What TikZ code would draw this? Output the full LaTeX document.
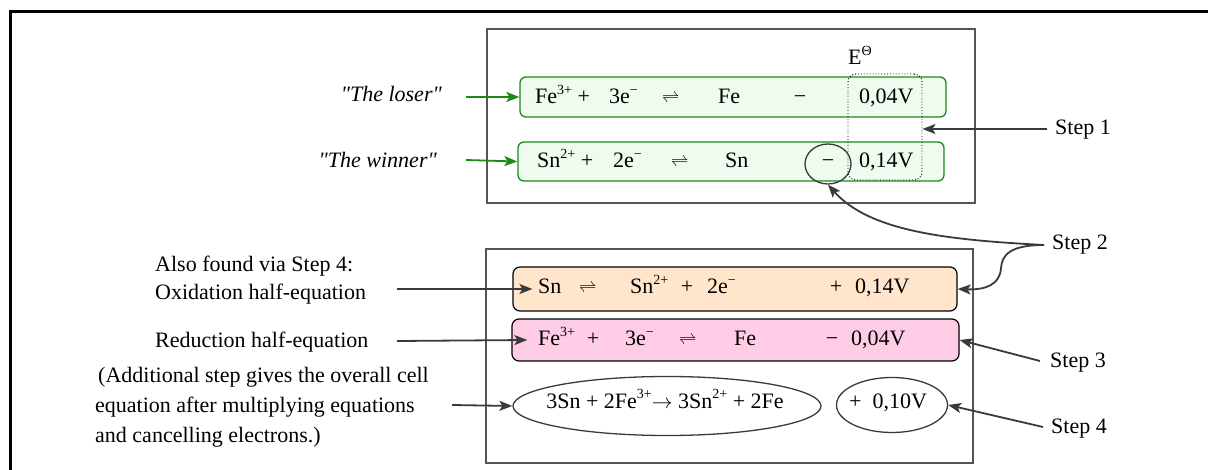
\documentclass[tikz,border=0pt]{standalone}
\usepackage{fontspec}
\setmainfont{Liberation Serif}
\newfontfamily\plainserif{Liberation Serif}
\usepackage{graphicx}
\usetikzlibrary{arrows.meta,shapes.geometric}
\definecolor{arrgray}{HTML}{3A3A3A}
\definecolor{panelgray}{HTML}{555555}
\definecolor{grn}{HTML}{1A8A1A}
\definecolor{grnfill}{HTML}{EEFBEE}
\definecolor{orfill}{HTML}{FFE5CC}
\definecolor{pkfill}{HTML}{FFCCE6}
\newcommand\sups[1]{\raisebox{0.42em}{\fontsize{14}{14}\selectfont #1}}
\newcommand\eqq{\raisebox{0.05em}{\scalebox{0.85}{$\rightleftharpoons$}}}
\tikzset{
  frame/.style={line width=3pt, black},
  panel/.style={draw=panelgray, line width=1.5pt, rectangle, inner sep=0pt},
  greenbox/.style={draw=grn, fill=grnfill, rounded corners=6pt, line width=1.3pt, rectangle, inner sep=0pt},
  orbox/.style={draw=black, fill=orfill, rounded corners=7pt, line width=1.2pt, rectangle, inner sep=0pt},
  pkbox/.style={draw=black, fill=pkfill, rounded corners=7pt, line width=1.2pt, rectangle, inner sep=0pt},
  ell/.style={draw=arrgray, line width=1.3pt, ellipse, inner sep=0pt},
  dotbox/.style={draw=black, dotted, line width=0.9pt, rounded corners=8pt, rectangle, inner sep=0pt},
  txt/.style={inner sep=0pt, anchor=base west},
  txtc/.style={inner sep=0pt, anchor=base},
  arr/.style={draw=arrgray, line width=1.8pt, -{Stealth[length=13pt,width=10pt,inset=3pt]}},
  garr/.style={draw=grn, line width=1.8pt, -{Stealth[length=13pt,width=10pt,inset=3pt]}},
}
\begin{document}
\begin{tikzpicture}[x=1pt,y=-1pt]
\fontsize{22}{26}\selectfont
\useasboundingbox (0,0) rectangle (1208,470);
% outer frame
\draw[frame] (10,472) -- (10,12) -- (1210,12);
% panels
\node[panel, minimum width=488pt, minimum height=174pt] (top) at (731,116) {};
\node[panel, minimum width=487pt, minimum height=214pt] (bot) at (729.5,356) {};
% green boxes
\node[greenbox, minimum width=426pt, minimum height=40pt] (g1) at (733,97) {};
\node[greenbox, minimum width=426pt, minimum height=39pt] (g2) at (731,161.5) {};
\node[dotbox, minimum width=74pt, minimum height=106pt] (dot) at (885,127) {};
\node[ell, minimum width=46pt, minimum height=40pt] (circ) at (828,164) {};
% E theta
\node[txt] (eth) at (848,65) {E\sups{Θ}};
% row 1
\node[txt] (r1a) at (535,104) {Fe\sups{3+} +};
\node[txt] (r1b) at (609,104) {3e\sups{−}};
\node[txt] (r1c) at (662,104) {\eqq};
\node[txt] (r1d) at (718,104) {Fe};
\node[txtc] (r1e) at (800,104) {−};
\node[txt] (r1f) at (859,104) {0,04V};
% row 2
\node[txt] (r2a) at (537,168) {Sn\sups{2+} +};
\node[txt] (r2b) at (613,168) {2e\sups{−}};
\node[txt] (r2c) at (671,168) {\eqq};
\node[txt] (r2d) at (725,168) {Sn};
\node[txtc] (r2e) at (828,168) {−};
\node[txt] (r2f) at (859,168) {0,14V};
% lower boxes
\node[orbox, minimum width=444pt, minimum height=44pt] (ox) at (735,289) {};
\node[pkbox, minimum width=447pt, minimum height=42pt] (rd) at (735.5,340) {};
\node[ell, minimum width=308pt, minimum height=59pt] (big) at (667,406) {};
\node[ell, minimum width=111pt, minimum height=55pt] (sm) at (892,405) {};
% orange row
\node[txt] (o1) at (538,294) {Sn};
\node[txt] (o2) at (579,294) {\eqq};
\node[txt] (o3) at (630,294) {Sn\sups{2+}};
\node[txtc] (o4) at (687,294) {+};
\node[txt] (o5) at (707,294) {2e\sups{−}};
\node[txtc] (o6) at (836,294) {+};
\node[txt] (o7) at (855,294) {0,14V};
% pink row
\node[txt] (p1) at (538,346) {Fe\sups{3+}};
\node[txtc] (p2) at (593,346) {+};
\node[txt] (p3) at (625,346) {3e\sups{−}};
\node[txt] (p4) at (679,346) {\eqq};
\node[txt] (p5) at (734,346) {Fe};
\node[txtc] (p6) at (832,346) {−};
\node[txt] (p7) at (851,346) {0,04V};
% ellipse texts
\node[txtc] (e1) at (665,408) {3Sn + 2Fe\sups{3+}$\rightarrow$ 3Sn\sups{2+} + 2Fe};
\node[txtc] (e2) at (888,408) {+ \ 0,10V};
% left texts
\node[inner sep=0pt, anchor=base east] (loser) at (442,102) {\plainserif\itshape "The loser"};
\node[inner sep=0pt, anchor=base east] (winner) at (437,168) {\plainserif\itshape "The winner"};
\node[txt] (also) at (155,272) {Also found via Step 4:};
\node[txt] (oxt) at (155,300) {Oxidation half-equation};
\node[txt] (rdt) at (155,348) {Reduction half-equation};
\node[txt] (ad1) at (98,383) {(Additional step gives the overall cell};
\node[txt] (ad2) at (95,412) {equation after multiplying equations};
\node[txt] (ad3) at (95,442) {and cancelling electrons.)};
% step labels
\node[txt] (s1) at (1055,135) {Step 1};
\node[txt] (s2) at (1052,250) {Step 2};
\node[txt] (s3) at (1050,367) {Step 3};
\node[txt] (s4) at (1051,433) {Step 4};
% free ends
\coordinate (lA) at (466,97);
\coordinate (wA) at (466,160);
\coordinate (oA) at (397,289);
\coordinate (rA) at (397,341);
\coordinate (aA) at (452,405);
\coordinate (s1A) at (1047,129);
\coordinate (s2A) at (1044,245);
\coordinate (s3A) at (1040,361);
\coordinate (s4A) at (1043,427);
% arrows
\draw[garr] (lA) -- (g1.west);
\draw[garr] (wA) -- (g2.west);
\draw[arr] (oA) -- ([xshift=20pt]ox.west);
\draw[arr] (rA) -- ([xshift=16pt]rd.west);
\draw[arr] (aA) -- (big.west);
\draw[arr] (s1A) -- (dot.east |- s1A);
\draw[arr] (s2A) .. controls (950,240) and (870,232) .. (circ.south);
\draw[arr] (s2A) .. controls (1010,245) and (1002,255) .. (1001,268) .. controls (1000,285) and (985,290) .. (ox.east);
\draw[arr] (s3A) -- (rd.east);
\draw[arr] (s4A) -- (sm.east);
\end{tikzpicture}
\end{document}
